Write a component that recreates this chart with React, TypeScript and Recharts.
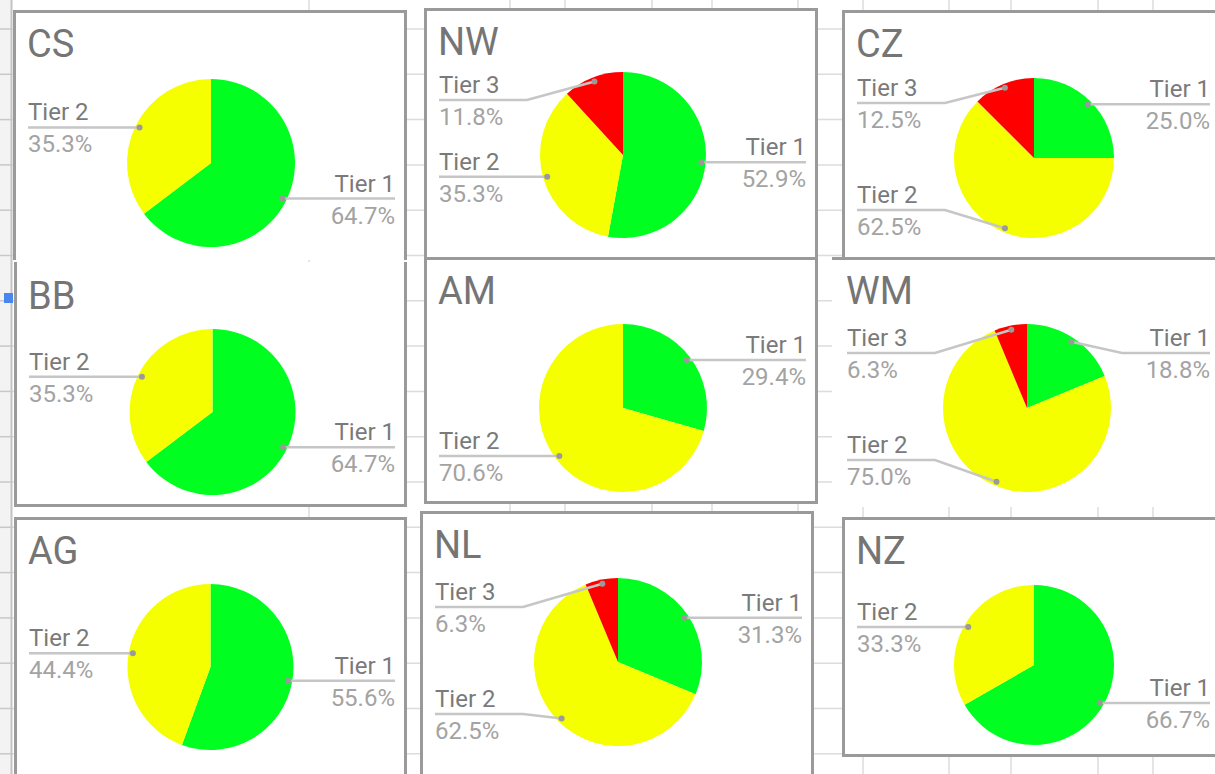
import React from 'react';
import { PieChart, Pie, Cell } from 'recharts';

// ---- data ----
const regions = ['CS', 'NW', 'CZ', 'BB', 'AM', 'WM', 'AG', 'NL', 'NZ'];
const tierNames = ['Tier 1', 'Tier 2', 'Tier 3'];
const tierColors = ['#00ff21', '#f5ff00', '#ff0000'];
const tier1Pct = [64.7, 52.9, 25.0, 64.7, 29.4, 18.8, 55.6, 31.3, 66.7];
const tier2Pct = [35.3, 35.3, 62.5, 35.3, 70.6, 75.0, 44.4, 62.5, 33.3];
const tier3Pct = [0, 11.8, 12.5, 0, 0, 6.3, 0, 6.3, 0];

// ---- layout (panel boxes on the sheet) ----
const panelLayout = [
  { x: 13, y: 10, w: 394, h: 250, sides: 'tlr', cy: 153, r: 84, dx: 1 },
  { x: 424, y: 8, w: 394, h: 250, sides: 'tlr', cy: 147, r: 83, dx: 2 },
  { x: 842, y: 10, w: 380, h: 248, sides: 'tl', cy: 148, r: 80, dx: 2 },
  { x: 14, y: 262, w: 393, h: 245, sides: 'lrb', cy: 150, r: 83, dx: 2 },
  { x: 424, y: 257, w: 394, h: 247, sides: 'tlrb', cy: 151, r: 84, dx: 2 },
  { x: 832, y: 257, w: 390, h: 250, sides: 't', cy: 151, r: 84, dx: 0 },
  { x: 14, y: 517, w: 393, h: 270, sides: 'tlr', cy: 150, r: 83, dx: 0 },
  { x: 420, y: 511, w: 394, h: 270, sides: 'tlr', cy: 151, r: 84, dx: 1 },
  { x: 842, y: 517, w: 380, h: 240, sides: 'tlb', cy: 148, r: 80, dx: 2 },
];
const colLines = [309, 510, 565, 652, 712, 798, 863, 949, 1011, 1098, 1153];
const rowLines: number[] = [];
for (let k = 0; k < 17; k++) rowLines.push(29 + k * 45.3);

const FONT = 'Roboto, "Noto Sans", Arial, sans-serif';
const BORDER = '#9a9a9a';

const makeLabel = (w: number) => (props: any) => {
  const { cx, cy, midAngle, outerRadius, payload } = props;
  const RAD = Math.PI / 180;
  const ax = cx + outerRadius * 0.95 * Math.cos(-midAngle * RAD);
  const ay = cy + outerRadius * 0.95 * Math.sin(-midAngle * RAD);
  const left = ax < cx;
  const ly = Math.min(Math.max(ay, cy - 55), cy + 52);
  const edge = left ? 15 : w - 12;
  const bend = left ? edge + 88 : edge - 88;
  const anchor = left ? 'start' : 'end';
  return (
    <g>
      <polyline
        points={`${edge},${ly} ${bend},${ly} ${ax},${ay}`}
        fill="none"
        stroke="#c6c6c6"
        strokeWidth={2.5}
      />
      <circle cx={ax} cy={ay} r={3} fill="#9a9a9a" />
      <text x={edge} y={ly - 7} textAnchor={anchor} fontFamily={FONT} fontSize={24} fill="#7a7a7a">
        {payload.name}
      </text>
      <text x={edge} y={ly + 25} textAnchor={anchor} fontFamily={FONT} fontSize={24} fill="#a3a3a3">
        {payload.value.toFixed(1) + '%'}
      </text>
    </g>
  );
};

function Panel({ idx }: { idx: number }) {
  const p = panelLayout[idx];
  const values = [tier1Pct[idx], tier2Pct[idx], tier3Pct[idx]];
  const data = tierNames
    .map((name, i) => ({ name, value: values[i], color: tierColors[i] }))
    .filter((d) => d.value > 0);
  const bw = 3;
  return (
    <div style={{ position: 'absolute', left: p.x, top: p.y, width: p.w, height: p.h, background: '#fff' }}>
      <PieChart width={p.w} height={p.h} margin={{ top: 0, right: 0, bottom: 0, left: 0 }}>
        <Pie
          data={data}
          dataKey="value"
          nameKey="name"
          cx={p.w / 2 + p.dx}
          cy={p.cy}
          outerRadius={p.r}
          startAngle={90}
          endAngle={-270}
          stroke="none"
          isAnimationActive={false}
          labelLine={false}
          label={makeLabel(p.w)}
        >
          {data.map((d, i) => (
            <Cell key={i} fill={d.color} />
          ))}
        </Pie>
      </PieChart>
      <svg width={p.w} height={60} style={{ position: 'absolute', left: 0, top: 0 }}>
        <text x={14} y={47} fontFamily={FONT} fontSize={38} fill="#757575">
          {regions[idx]}
        </text>
      </svg>
      <div
        style={{
          position: 'absolute',
          left: 0,
          top: 0,
          width: p.w,
          height: p.h,
          boxSizing: 'border-box',
          borderTop: p.sides.includes('t') ? `${bw}px solid ${BORDER}` : 'none',
          borderLeft: p.sides.includes('l') ? `${bw}px solid ${BORDER}` : 'none',
          borderRight: p.sides.includes('r') ? `${bw}px solid ${BORDER}` : 'none',
          borderBottom: p.sides.includes('b') ? `${bw}px solid ${BORDER}` : 'none',
          pointerEvents: 'none',
        }}
      />
    </div>
  );
}

export default function App() {
  return (
    <div
      style={{
        position: 'fixed',
        left: 0,
        top: 0,
        width: 1215,
        height: 774,
        overflow: 'hidden',
        background: '#fff',
      }}
    >
      <svg width={1215} height={774} style={{ position: 'absolute', left: 0, top: 0 }}>
        {rowLines.map((y, i) => (
          <line key={'r' + i} x1={0} x2={1215} y1={y} y2={y} stroke="#dcdcdc" strokeWidth={1.5} />
        ))}
        {colLines.map((x, i) => (
          <line key={'c' + i} x1={x} x2={x} y1={0} y2={774} stroke="#dcdcdc" strokeWidth={1.5} />
        ))}
        <rect x={0} y={0} width={12} height={774} fill="#f3f3f3" />
        {rowLines.map((y, i) => (
          <line key={'h' + i} x1={0} x2={12} y1={y} y2={y} stroke="#c8c8c8" strokeWidth={1.5} />
        ))}
        <line x1={11.5} x2={11.5} y1={0} y2={774} stroke="#c4c4c4" strokeWidth={2} />
        <rect x={4} y={293} width={9} height={10} fill="#4a86f0" />
      </svg>
      {regions.map((_, i) => (
        <Panel key={i} idx={i} />
      ))}
    </div>
  );
}
